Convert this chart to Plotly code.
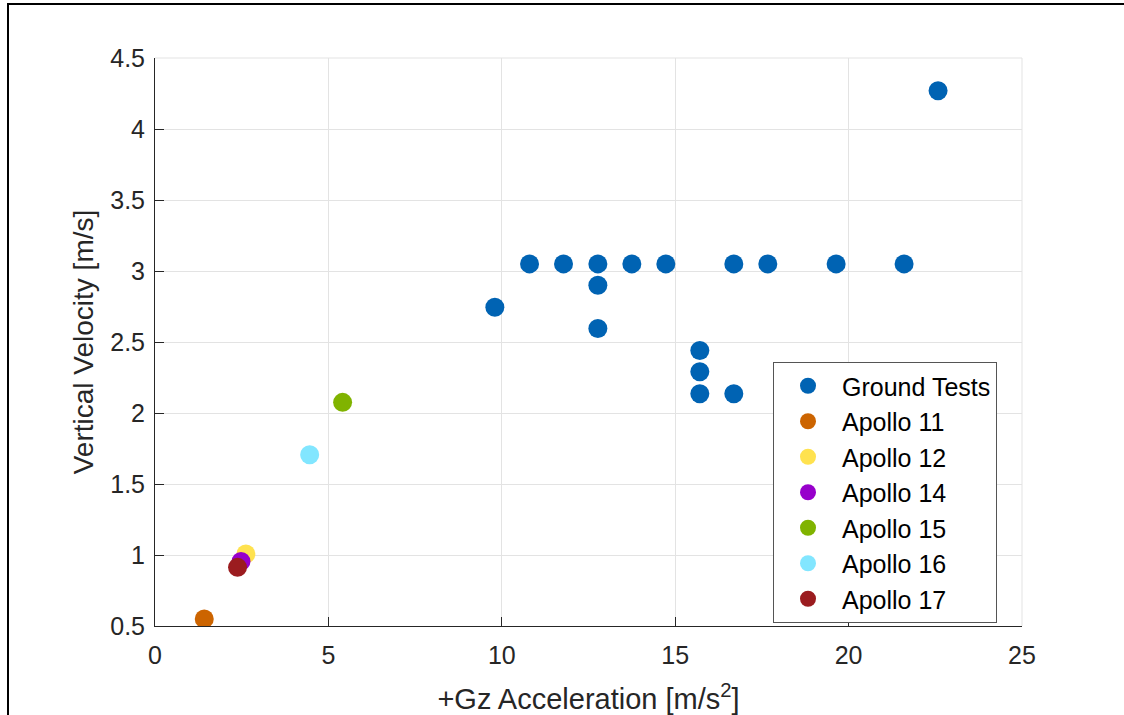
import plotly.graph_objects as go

# Ground test drops: vertical acceleration vs. touchdown vertical velocity
ground_gz = [9.8, 10.8, 11.78, 12.77, 12.77, 12.77, 13.75, 14.73, 15.71, 15.71, 15.71,
             16.69, 16.69, 17.67, 19.64, 21.6, 22.58]
ground_vv = [2.745, 3.05, 3.05, 3.05, 2.9, 2.595, 3.05, 3.05, 2.44, 2.29, 2.135,
             3.05, 2.135, 3.05, 3.05, 3.05, 4.27]

# Apollo lunar landings
missions = ["Apollo 11", "Apollo 12", "Apollo 14", "Apollo 15", "Apollo 16", "Apollo 17"]
mission_gz = [1.42, 2.62, 2.48, 5.41, 4.46, 2.38]
mission_vv = [0.55, 1.007, 0.955, 2.075, 1.706, 0.913]

ground_color = "#0063B3"
mission_colors = ["#CC6400", "#FFE24F", "#9700CB", "#80B300", "#82E6FF", "#9B1C1F"]

FONT = "Liberation Sans, Arial, Helvetica, sans-serif"
AXIS_DARK = "#262626"
GRID = "#E3E3E3"
MSIZE = 19

fig = go.Figure()
fig.add_trace(go.Scatter(
    x=ground_gz, y=ground_vv, mode="markers", name="Ground Tests",
    marker=dict(size=MSIZE, color=ground_color, line=dict(width=0)),
))
for name, gx, vy, col in zip(missions, mission_gz, mission_vv, mission_colors):
    fig.add_trace(go.Scatter(
        x=[gx], y=[vy], mode="markers", name=name,
        marker=dict(size=MSIZE, color=col, line=dict(width=0)),
    ))

W, H = 1124, 715
ML, MR, MT, MB = 155, 102, 58, 89
pw, ph = W - ML - MR, H - MT - MB


def px_x(p):
    return (p - ML) / pw


def px_y(p):
    return (H - MB - p) / ph


shapes = [
    # light outline on the top and right sides of the axes box
    dict(type="line", xref="paper", yref="paper", x0=0, x1=1, y0=1, y1=1,
         line=dict(color=GRID, width=1), layer="below"),
    dict(type="line", xref="paper", yref="paper", x0=1, x1=1, y0=0, y1=1,
         line=dict(color=GRID, width=1), layer="below"),
    # figure frame: thin filled bars along the top and left edges
    dict(type="rect", xref="paper", yref="paper",
         x0=px_x(7), x1=px_x(W), y0=px_y(5), y1=px_y(3),
         fillcolor="black", line=dict(width=0)),
    dict(type="rect", xref="paper", yref="paper",
         x0=px_x(7), x1=px_x(9), y0=px_y(H), y1=px_y(3),
         fillcolor="black", line=dict(width=0)),
]

fig.update_layout(
    width=W, height=H,
    margin=dict(l=ML, r=MR, t=MT, b=MB, pad=0, autoexpand=False),
    paper_bgcolor="white", plot_bgcolor="white",
    font=dict(family=FONT, color=AXIS_DARK, size=25),
    shapes=shapes,
    xaxis=dict(
        range=[0, 25], tickvals=[0, 5, 10, 15, 20, 25],
        showgrid=True, gridcolor=GRID, gridwidth=1, zeroline=False,
        showline=True, linecolor=AXIS_DARK, linewidth=1,
        ticks="inside", ticklen=9, tickcolor=AXIS_DARK,
        ticklabelstandoff=7, automargin=False,
        tickfont=dict(size=25, color=AXIS_DARK),
        title=dict(text="+Gz Acceleration [m/s<sup>2</sup>]",
                   font=dict(size=29, color=AXIS_DARK), standoff=21),
    ),
    yaxis=dict(
        range=[0.5, 4.5], tickvals=[0.5, 1, 1.5, 2, 2.5, 3, 3.5, 4, 4.5],
        ticktext=["0.5", "1", "1.5", "2", "2.5", "3", "3.5", "4", "4.5"],
        showgrid=True, gridcolor=GRID, gridwidth=1, zeroline=False,
        showline=True, linecolor=AXIS_DARK, linewidth=1,
        ticks="inside", ticklen=9, tickcolor=AXIS_DARK,
        ticklabelstandoff=4, automargin=False,
        tickfont=dict(size=25, color=AXIS_DARK),
        title=dict(text="Vertical Velocity [m/s]",
                   font=dict(size=28, color=AXIS_DARK), standoff=8),
    ),
    legend=dict(
        x=px_x(773), y=px_y(362), xanchor="left", yanchor="top",
        bgcolor="white", bordercolor="#555555", borderwidth=1,
        font=dict(size=25, color="black", family=FONT),
        itemwidth=58,
    ),
    showlegend=True,
)

fig.write_html("out.html", config={"displayModeBar": False})
